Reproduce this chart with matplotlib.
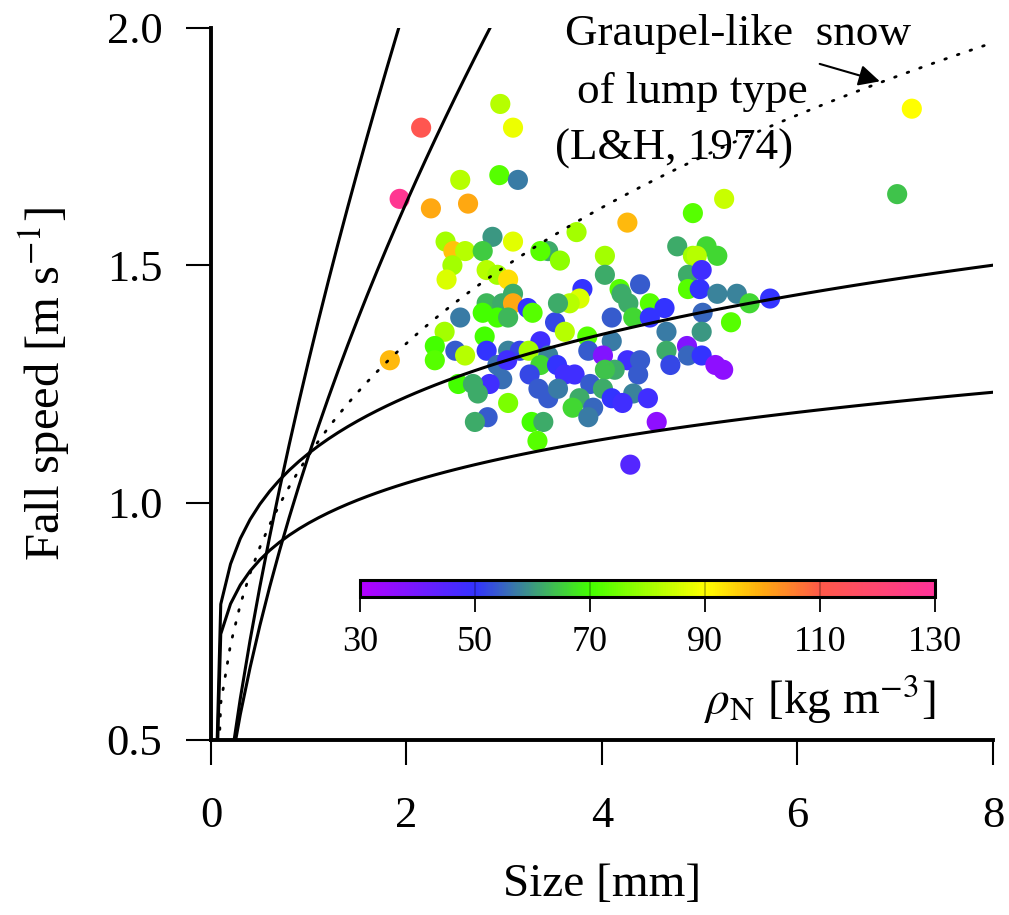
import numpy as np
import matplotlib.pyplot as plt
from matplotlib.colors import LinearSegmentedColormap

plt.rcParams['font.family'] = ['Liberation Serif', 'DejaVu Serif']
plt.rcParams['mathtext.fontset'] = 'stix'

# observed particles: size [mm], fall speed [m/s], density rho_N [kg m-3]
size_mm = np.array([
    2.96, 3.09, 2.15, 1.93, 2.55, 2.95, 3.14, 2.25, 2.63, 4.26, 5.25, 4.93, 7.17, 7.02, 1.83,
    2.40, 2.48, 2.60, 2.88, 2.78, 3.09, 2.47, 2.41, 2.82, 2.93, 3.04, 3.09, 3.45, 3.37, 2.82,
    2.98, 3.09, 3.24, 2.78, 2.93, 3.04, 3.29, 2.55, 2.39, 2.80, 3.52, 2.29, 2.29, 2.50, 2.60,
    2.82, 3.04, 3.16, 3.37, 3.25, 2.93, 3.03, 3.45, 3.37, 3.54, 2.98, 2.85, 2.53, 2.68, 2.73,
    3.26, 3.35, 3.45, 3.04, 2.83, 2.70, 3.28, 3.40, 3.34,
    3.74, 3.57, 4.03, 4.77, 4.93, 4.03, 3.80, 3.77, 3.67, 3.55, 3.62, 4.18, 4.20, 4.27, 4.39,
    4.49, 4.64, 4.10, 4.32, 4.49, 4.88, 4.88, 5.00, 3.85, 4.10, 4.66, 3.86, 4.01, 4.26, 4.39,
    4.66, 4.87, 4.88, 4.70, 4.13, 4.03, 4.37, 3.62, 3.72, 3.88, 4.01, 3.55, 4.32, 4.47, 4.10,
    3.77, 3.70, 3.91, 4.21, 3.86, 4.56,
    5.18, 5.38, 5.51, 5.72, 5.03, 5.32, 5.02, 5.02, 5.16, 5.24, 4.29, 5.07, 4.97, 5.18, 5.02,
])
fall_speed = np.array([
    1.84, 1.79, 1.79, 1.64, 1.68, 1.69, 1.68, 1.62, 1.63, 1.59, 1.64, 1.61, 1.83, 1.65, 1.30,
    1.55, 1.53, 1.53, 1.56, 1.53, 1.55, 1.50, 1.47, 1.49, 1.48, 1.47, 1.44, 1.53, 1.53, 1.42,
    1.42, 1.42, 1.41, 1.40, 1.39, 1.39, 1.40, 1.39, 1.36, 1.35, 1.38, 1.33, 1.30, 1.32, 1.31,
    1.32, 1.32, 1.32, 1.34, 1.32, 1.29, 1.30, 1.31, 1.29, 1.29, 1.26, 1.25, 1.25, 1.25, 1.23,
    1.27, 1.24, 1.22, 1.21, 1.18, 1.17, 1.17, 1.17, 1.13,
    1.57, 1.51, 1.52, 1.54, 1.52, 1.48, 1.45, 1.43, 1.42, 1.42, 1.36, 1.45, 1.44, 1.42, 1.46,
    1.42, 1.41, 1.39, 1.39, 1.39, 1.48, 1.45, 1.45, 1.35, 1.34, 1.36, 1.32, 1.31, 1.30, 1.30,
    1.32, 1.33, 1.31, 1.29, 1.28, 1.28, 1.27, 1.27, 1.27, 1.25, 1.24, 1.24, 1.23, 1.22, 1.22,
    1.22, 1.20, 1.20, 1.21, 1.18, 1.17,
    1.44, 1.44, 1.42, 1.43, 1.40, 1.38, 1.36, 1.31, 1.29, 1.28, 1.08, 1.54, 1.52, 1.52, 1.49,
])
rho_n = np.array([
    82, 88, 112, 128, 82, 72, 57, 100, 100, 98, 84, 72, 90, 64, 98,
    80, 97, 82, 60, 65, 87, 80, 86, 82, 80, 94, 62, 62, 72, 63,
    62, 100, 50, 70, 70, 63, 72, 57, 80, 70, 52, 70, 72, 54, 82,
    50, 58, 52, 48, 80, 56, 48, 58, 66, 50, 56, 48, 70, 62, 62,
    52, 54, 54, 76, 54, 62, 70, 62, 72,
    80, 78, 80, 62, 80, 62, 50, 86, 82, 62, 82, 72, 62, 62, 54,
    72, 50, 54, 66, 50, 62, 72, 50, 72, 57, 57, 54, 38, 48, 54,
    62, 38, 55, 52, 62, 64, 54, 48, 48, 54, 62, 57, 58, 48, 50,
    62, 66, 55, 48, 57, 36,
    58, 58, 66, 50, 55, 72, 60, 50, 36, 36, 45, 66, 82, 66, 48,
])

# empirical fall-speed relations v = a * D**b (solid), graupel-like snow of lump type (dotted)
curve_a = [1.3, 1.1, 1.104, 0.957]
curve_b = [0.66, 0.57, 0.1475, 0.1217]
lump_a, lump_b = 1.1, 0.28

cbar_ticks = [30, 50, 70, 90, 110, 130]
cmap_levels = [30, 50, 70, 90, 100, 110, 130]
cmap_colors = ['#b400ff', '#3333ff', '#44ff00', '#ffff00', '#ffaa10', '#ff5a48', '#ff3399']

lo, hi = cmap_levels[0], cmap_levels[-1]
cmap = LinearSegmentedColormap.from_list(
    'rho', [((l - lo) / (hi - lo), c) for l, c in zip(cmap_levels, cmap_colors)])

fig = plt.figure(figsize=(10.09, 9.15), dpi=100)
ax = fig.add_axes([0.2091, 0.1913, 0.775, 0.7781])

d = np.arange(0, 8.05, 0.1)
for a, b in zip(curve_a, curve_b):
    ax.plot(d, a * d ** b, color='black', lw=2.2, zorder=3)
ax.plot(d, lump_a * d ** lump_b, color='black', lw=2.0,
        linestyle=(0, (0.6, 4.2)), dash_capstyle='round', zorder=3)

sc = ax.scatter(size_mm, fall_speed, c=rho_n, cmap=cmap, vmin=lo, vmax=hi,
                s=210, edgecolors='none', zorder=2)

ax.set_xlim(0, 8)
ax.set_ylim(0.5, 2.0)
ax.set_xticks([0, 2, 4, 6, 8])
ax.set_yticks([0.5, 1.0, 1.5, 2.0])
ax.set_yticklabels(['0.5', '1.0', '1.5', '2.0'])
for s in ['top', 'right']:
    ax.spines[s].set_visible(False)
for s in ['left', 'bottom']:
    ax.spines[s].set_linewidth(2.8)
ax.tick_params(direction='out', length=18, width=1.5, labelsize=32)
ax.tick_params(axis='x', pad=22)
ax.tick_params(axis='y', pad=17)
ax.set_xlabel('Size [mm]', fontsize=34, labelpad=20)
ax.set_ylabel(r'Fall speed [m s$^{-1}$]', fontsize=35, labelpad=25)

# label for the dotted curve, one line at a time
note_x = [3.62, 3.744, 3.52]
note_y = [1.964, 1.842, 1.722]
note_lines = ['Graupel-like  snow', 'of lump type', '(L&H, 1974)']
for x, y, line in zip(note_x, note_y, note_lines):
    ax.text(x, y, line, fontsize=32.5, ha='left', va='baseline', clip_on=False, zorder=4)
ax.annotate('', xy=(6.87, 1.886), xytext=(6.20, 1.926),
            arrowprops=dict(arrowstyle='-|>', color='black', lw=1.5, mutation_scale=32),
            zorder=4)

cax = fig.add_axes([0.3568, 0.3475, 0.570, 0.0186])
cb = fig.colorbar(sc, cax=cax, orientation='horizontal', ticks=cbar_ticks)
cb.outline.set_linewidth(2.2)
for t in cbar_ticks[1:-1]:
    cax.axvline(t, color='black', lw=1.2, alpha=0.3)
cax.tick_params(direction='out', length=11, width=1.3, labelsize=26, pad=10)
fig.text(0.9267, 0.236, r'$\rho_{\mathrm{N}}$ [kg m$^{\mathrm{-3}}$]',
         fontsize=34, ha='right', va='center')

fig.savefig('out.png', dpi=100)
